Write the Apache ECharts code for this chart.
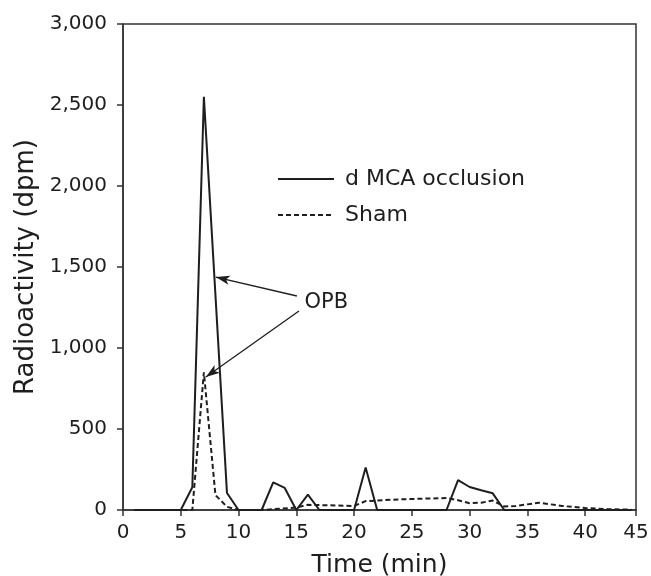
<!DOCTYPE html>
<html>
<head>
<meta charset="utf-8">
<script src="https://cdn.jsdelivr.net/npm/echarts@6/dist/echarts.min.js"></script>
<style>html,body{margin:0;padding:0;background:#fff}#c{width:651px;height:576px}</style>
</head>
<body>
<div id="c"></div>
<script>
// d MCA occlusion: [time (min), radioactivity (dpm)]
const occlusionTimes  = [1, 5, 6, 7, 9, 10, 12, 13, 14, 15, 16, 17, 20, 21, 22, 28, 29, 30, 31, 32, 33, 44];
const occlusionValues = [0, 0, 140, 2550, 105, 0, 0, 171, 136, 0, 95, 0, 0, 263, 0, 0, 185, 142, 122, 103, 0, 0];
// Sham
const shamTimes  = [1, 6, 7, 8, 9, 10, 12, 15, 16, 20, 21, 24, 28, 29, 30, 31, 32, 33, 34, 36, 38, 40, 42, 44];
const shamValues = [0, 0, 850, 92, 20, 0, 0, 15, 32, 25, 55, 66, 74, 60, 42, 45, 58, 22, 25, 45, 25, 12, 5, 2];

const seriesNames = ['d MCA occlusion', 'Sham'];
const yTicks = [0, 500, 1000, 1500, 2000, 2500, 3000];
const xTickLabels = ['0', '5', '10', '15', '20', '25', '30', '35', '40', '45'];
const annotationText = 'OPB';

const FONT = 'DejaVu Sans';
const INK = '#1e1e1e';

const occl = occlusionTimes.map((t, i) => [t, occlusionValues[i]]);
const sham = shamTimes.map((t, i) => [t, shamValues[i]]);

const chart = echarts.init(document.getElementById('c'), null, {renderer: 'canvas'});
chart.setOption({
  animation: false,
  backgroundColor: '#fff',
  grid: {left: 123, right: 15, top: 24, bottom: 66, show: true, borderColor: '#333', borderWidth: 1.5,
    backgroundColor: 'transparent', containLabel: false, outerBoundsMode: 'none'},
  legend: {
    orient: 'vertical', left: 277, top: 168, itemWidth: 56, itemHeight: 14, itemGap: 14,
    padding: 0, selectedMode: false,
    itemStyle: {opacity: 0},
    textStyle: {fontFamily: FONT, fontSize: 22, color: INK, padding: [0, 0, 0, 6]},
    data: seriesNames
  },
  xAxis: {
    type: 'value', min: 0, max: 44.4, interval: 5,
    name: 'Time (min)', nameLocation: 'middle', nameGap: 43,
    nameTextStyle: {fontFamily: FONT, fontSize: 25, color: INK},
    axisLine: {lineStyle: {color: '#333', width: 1.5}},
    axisTick: {show: true, length: 6, lineStyle: {color: '#333', width: 1.5}},
    axisLabel: {fontFamily: FONT, fontSize: 20, color: INK, margin: 13, showMaxLabel: true,
      formatter: v => { const i = Math.round(v / 5); return xTickLabels[i] !== undefined ? xTickLabels[i] : ''; }},
    splitLine: {show: false}
  },
  yAxis: {
    type: 'value', min: yTicks[0], max: yTicks[yTicks.length - 1], interval: 500,
    name: 'Radioactivity (dpm)', nameLocation: 'middle', nameGap: 77,
    nameTextStyle: {fontFamily: FONT, fontSize: 26, color: INK},
    axisLine: {show: true, lineStyle: {color: '#333', width: 1.5}},
    axisTick: {show: true, length: 6, lineStyle: {color: '#333', width: 1.5}},
    axisLabel: {fontFamily: FONT, fontSize: 20, color: INK, margin: 16,
      formatter: v => v.toLocaleString('en-US')},
    splitLine: {show: false}
  },
  series: [
    {
      name: seriesNames[1], type: 'line', data: sham, symbol: 'none', z: 2,
      lineStyle: {color: INK, width: 2, type: [5, 3]}, itemStyle: {color: INK}
    },
    {
      name: seriesNames[0], type: 'line', data: occl, symbol: 'none', z: 3,
      lineStyle: {color: INK, width: 2, type: 'solid'}, itemStyle: {color: INK},
      markLine: {
        silent: true, symbol: ['none', 'arrow'], symbolSize: [7, 14],
        lineStyle: {color: INK, width: 1.3, type: 'solid'},
        label: {show: false},
        data: [
          [{coord: [15.05, 1321]}, {coord: [8.03, 1438]}],
          [{coord: [15.23, 1228]}, {coord: [7.17, 821]}]
        ]
      },
      markPoint: {
        silent: true, symbol: 'circle', symbolSize: 0,
        label: {show: true, position: 'inside', formatter: annotationText, fontFamily: FONT, fontSize: 21, color: INK},
        data: [{coord: [17.6, 1278]}]
      }
    }
  ]
});
</script>
</body>
</html>
